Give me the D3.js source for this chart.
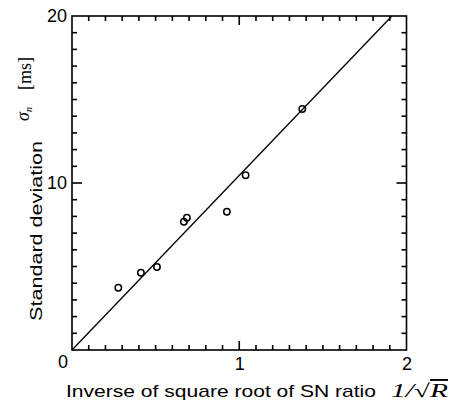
<!DOCTYPE html>
<html><head><meta charset="utf-8">
<script src="https://cdn.jsdelivr.net/npm/d3@7"></script>
<style>body{margin:0;background:#fff}svg{display:block}</style>
</head><body>
<svg id="c" width="454" height="401"></svg>
<script>
// ---- data ----
const xValues = [0.277, 0.412, 0.508, 0.669, 0.687, 0.926, 1.038, 1.377];
const yValues = [3.73, 4.63, 4.97, 7.68, 7.92, 8.28, 10.46, 14.43];
const fitX = [0, 1.913];
const fitY = [0, 20];
const xMajorTicks = [1, 2];
const xTickLabels = ["1", "2"];
const yMajorTicks = [10, 20];
const yTickLabels = ["10", "20"];
const originLabel = "0";
const xTitle = "Inverse of square root of SN ratio";
const yTitle = "Standard deviation";

// ---- layout ----
const L = 72, R = 406.5, T = 16, B = 350;
const svg = d3.select("#c");
const xs = d3.scaleLinear().domain([0, 2]).range([L, R]);
const ys = d3.scaleLinear().domain([0, 20]).range([B, T]);
const minorX = d3.range(1, 20).map(i => i / 10);
const minorY = d3.range(1, 20);

// frame
svg.append("rect").attr("x", xs(0)).attr("y", ys(20))
  .attr("width", xs(2) - xs(0)).attr("height", ys(0) - ys(20))
  .attr("fill", "none").attr("stroke", "#000").attr("stroke-width", 1.6);

// inward ticks as small filled rects
const xLen = d => (Math.abs(d - 1) < 1e-9 ? 9 : 5);
const yLen = d => (d === 10 ? 10 : 5);
const tw = 1.6;
const tg = svg.append("g").attr("fill", "#000");
tg.selectAll(".tb").data(minorX).join("rect").attr("class", "tb")
  .attr("x", d => xs(d) - tw / 2).attr("y", d => ys(0) - xLen(d))
  .attr("width", tw).attr("height", d => xLen(d));
tg.selectAll(".tt").data(minorX).join("rect").attr("class", "tt")
  .attr("x", d => xs(d) - tw / 2).attr("y", ys(20))
  .attr("width", tw).attr("height", d => xLen(d));
tg.selectAll(".tl").data(minorY).join("rect").attr("class", "tl")
  .attr("x", xs(0)).attr("y", d => ys(d) - tw / 2)
  .attr("width", d => yLen(d)).attr("height", tw);
tg.selectAll(".tr").data(minorY).join("rect").attr("class", "tr")
  .attr("x", d => xs(2) - yLen(d)).attr("y", d => ys(d) - tw / 2)
  .attr("width", d => yLen(d)).attr("height", tw);

// tick labels
const font = "'Liberation Sans', Arial, sans-serif";
svg.append("g").attr("transform", `translate(0,${B})`)
  .call(d3.axisBottom(xs).tickValues(xMajorTicks).tickSize(0).tickPadding(7)
    .tickFormat((d, i) => xTickLabels[i]))
  .call(g => g.select("path.domain").remove())
  .call(g => g.selectAll("text").attr("font-family", font).attr("font-size", 18).attr("fill", "#000"));
svg.append("g").attr("transform", `translate(${L},0)`)
  .call(d3.axisLeft(ys).tickValues(yMajorTicks).tickSize(0).tickPadding(5)
    .tickFormat((d, i) => yTickLabels[i]))
  .call(g => g.select("path.domain").remove())
  .call(g => g.selectAll("text").attr("font-family", font).attr("font-size", 18).attr("fill", "#000"));
svg.append("text").attr("x", xs(0) - 9).attr("y", ys(0) + 18)
  .attr("text-anchor", "middle").attr("font-family", font).attr("font-size", 18).text(originLabel);

// fit line
svg.append("path")
  .datum(fitX.map((v, i) => [v, fitY[i]]))
  .attr("d", d3.line().x(d => xs(d[0])).y(d => ys(d[1])))
  .attr("fill", "none").attr("stroke", "#000").attr("stroke-width", 1.3);

// points
svg.append("g").selectAll("circle")
  .data(xValues.map((v, i) => [v, yValues[i]]))
  .join("circle")
  .attr("cx", d => xs(d[0])).attr("cy", d => ys(d[1])).attr("r", 3.2)
  .attr("fill", "none").attr("stroke", "#000").attr("stroke-width", 1.5);

// x title
svg.append("text").attr("x", 66).attr("y", 397)
  .attr("font-family", font).attr("font-size", 17)
  .attr("textLength", 310).attr("lengthAdjust", "spacingAndGlyphs")
  .text(xTitle);
const serif = "'Liberation Serif', 'Times New Roman', serif";
const xm = svg.append("text").attr("x", 391).attr("y", 397)
  .attr("font-family", serif).attr("font-size", 19).attr("font-style", "italic")
  .attr("textLength", 57).attr("lengthAdjust", "spacingAndGlyphs");
xm.append("tspan").text("1/");
xm.append("tspan").attr("font-style", "normal").text("√");
xm.append("tspan").attr("text-decoration", "overline").text("R");

// y title
svg.append("text").attr("transform", "translate(42,231) rotate(-90)")
  .attr("text-anchor", "middle").attr("font-family", font).attr("font-size", 17)
  .attr("textLength", 180).attr("lengthAdjust", "spacingAndGlyphs")
  .text(yTitle);
const ym = svg.append("text").attr("transform", "translate(29,121) rotate(-90)")
  .attr("font-family", serif).attr("font-size", 18).attr("font-style", "italic");
ym.append("tspan").text("σ");
ym.append("tspan").attr("font-size", 10).attr("dy", 3).text("n");
svg.append("text").attr("transform", "translate(31,73.5) rotate(-90)")
  .attr("text-anchor", "middle").attr("font-family", serif).attr("font-size", 18)
  .attr("textLength", 33).attr("lengthAdjust", "spacingAndGlyphs")
  .text("[ms]");
</script>
</body></html>
